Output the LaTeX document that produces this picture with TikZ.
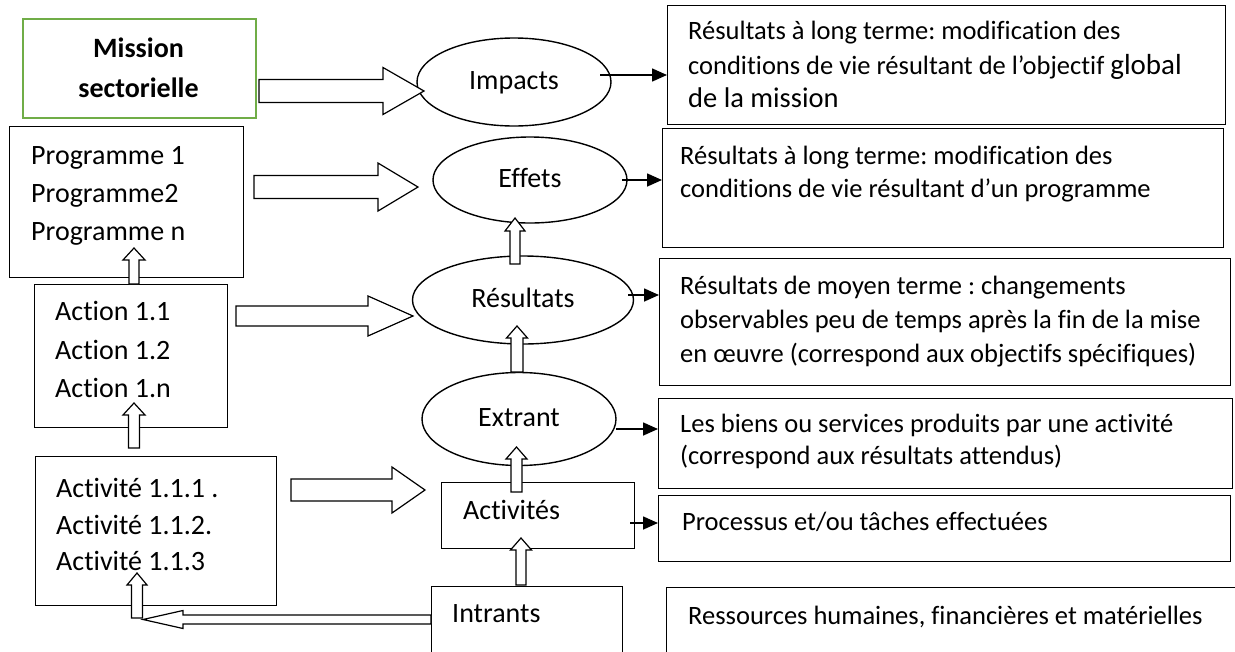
\documentclass[tikz,border=0pt]{standalone}
\usepackage{fontspec}
\setmainfont{Carlito}[Ligatures={TeX,NoCommon}]
\frenchspacing
\usetikzlibrary{calc,shapes.geometric,arrows.meta}
\definecolor{mgreen}{RGB}{112,173,71}
% block arrow: #1 from, #2 tip, #3 shaft half width, #4 head half width, #5 head length
\newcommand\blockarrow[5]{%
  \draw[blockarr] ($(#1)!#3!90:(#2)$)
    -- ($($(#2)!#5!(#1)$)!#3!90:(#2)$)
    -- ($($(#2)!#5!(#1)$)!#4!90:(#2)$)
    -- (#2)
    -- ($($(#2)!#5!(#1)$)!#4!-90:(#2)$)
    -- ($($(#2)!#5!(#1)$)!#3!-90:(#2)$)
    -- ($(#1)!#3!-90:(#2)$) -- cycle;}
\begin{document}
\begin{tikzpicture}[x=1pt,y=-1pt,
  box/.style={draw, line width=1.4pt, rectangle, inner sep=0pt, anchor=north west},
  ell/.style={draw, ellipse, line width=1.4pt, inner sep=0pt, font=\fontsize{28}{34}\selectfont, text height=22.6pt, text depth=7pt},
  lt/.style={anchor=west, inner sep=0pt, font=\fontsize{28}{34}\selectfont, text height=21.6pt, text depth=7pt},
  rt/.style={anchor=west, inner sep=0pt, font=\fontsize{26.5}{30}\selectfont, text height=20.5pt, text depth=6.4pt},
  blockarr/.style={draw, fill=white, line width=1.2pt, line join=miter},
  thin/.style={line width=1.6pt, -{Triangle[length=15pt,width=13pt]}}]
\useasboundingbox (0,0) rectangle (1235,651);
\clip (0,0) rectangle (1235,651);
\fill[white] (0,0) rectangle (1235,651);

% ---- left column boxes
\node[box, draw=mgreen, line width=1.8pt, minimum width=233pt, minimum height=99pt] (mission) at (22,18) {};
\node[align=center, inner sep=0pt, font=\fontsize{28}{40}\selectfont\bfseries] (missiont) at (138.5,68) {Mission\\sectorielle};

\node[box, minimum width=234pt, minimum height=151pt] (prog) at (9,126) {};
\node[lt] (prog1) at (31,157) {Programme 1};
\node[lt] (prog2) at (31,195) {Programme2};
\node[lt] (prog3) at (31,233) {Programme n};

\node[box, minimum width=193pt, minimum height=143pt] (action) at (34,284) {};
\node[lt] (act1) at (55,313) {Action 1.1};
\node[lt] (act2) at (55,352) {Action 1.2};
\node[lt] (act3) at (55,390) {Action 1.n};

\node[box, minimum width=241pt, minimum height=149pt] (activite) at (35,456) {};
\node[lt] (av1) at (56,490) {Activité 1.1.1 .};
\node[lt] (av2) at (56,527) {Activité 1.1.2.};
\node[lt] (av3) at (56,563) {Activité 1.1.3};

% ---- middle column
\node[ell, minimum width=194pt, minimum height=88pt] (impacts) at (514,82) {Impacts};
\node[ell, minimum width=194pt, minimum height=86pt] (effets) at (530,180) {Effets};
\node[ell, minimum width=221pt, minimum height=88pt] (resultats) at (523,300) {Résultats};
\node[ell, minimum width=194pt, minimum height=93pt] (extrant) at (519,419) {Extrant};

\node[box, minimum width=193pt, minimum height=66pt] (activites) at (441,482) {};
\node[lt] (activitest) at (463,512) {Activités};
\node[box, minimum width=191pt, minimum height=80pt] (intrants) at (431,586) {};
\node[lt] (intrantst) at (452,615) {Intrants};

% ---- right column
\node[box, minimum width=558pt, minimum height=119pt] (b1) at (667,5) {};
\node[rt] (b1a) at (688,32) {Résultats à long terme: modification des};
\node[rt] (b1b) at (688,67) {conditions de vie résultant de l’objectif {\fontsize{29}{30}\selectfont global}};
\node[rt, font=\fontsize{28.5}{30}\selectfont] (b1c) at (688,100) {de la mission};

\node[box, minimum width=561pt, minimum height=119pt] (b2) at (662,128) {};
\node[rt] (b2a) at (680,157) {Résultats à long terme: modification des};
\node[rt] (b2b) at (680,190) {conditions de vie résultant d’un programme};

\node[box, minimum width=571pt, minimum height=127pt] (b3) at (659,258) {};
\node[rt] (b3a) at (680,287) {Résultats de moyen terme : changements};
\node[rt] (b3b) at (680,321) {observables peu de temps après la fin de la mise};
\node[rt] (b3c) at (680,355) {en œuvre (correspond aux objectifs spécifiques)};

\node[box, minimum width=574pt, minimum height=90pt] (b4) at (658,398) {};
\node[rt] (b4a) at (680,425) {Les biens ou services produits par une activité};
\node[rt] (b4b) at (680,457) {(correspond aux résultats attendus)};

\node[box, minimum width=572pt, minimum height=66pt] (b5) at (658,495) {};
\node[rt] (b5a) at (682,523) {Processus et/ou tâches effectuées};

\node[box, minimum width=600pt, minimum height=80pt] (b6) at (666,587) {};
\node[rt] (b6a) at (688,617) {Ressources humaines, financières et matérielles};

% ---- thin arrows
\coordinate (l1s) at (600,75);  \coordinate (l1t) at (667,75);
\coordinate (l2s) at (622,180); \coordinate (l2t) at (662,180);
\coordinate (l3s) at (628,295); \coordinate (l3t) at (659,295);
\coordinate (l4s) at (616,429); \coordinate (l4t) at (658,429);
\coordinate (l5s) at (630,523); \coordinate (l5t) at (658,523);
\draw[thin] (l1s) -- (l1t);
\draw[thin] (l2s) -- (l2t);
\draw[thin] (l3s) -- (l3t);
\draw[thin] (l4s) -- (l4t);
\draw[thin] (l5s) -- (l5t);

% ---- horizontal block arrows
\coordinate (a1s) at (259,91);  \coordinate (a1t) at (424,91);
\coordinate (a2s) at (254,187); \coordinate (a2t) at (418,187);
\coordinate (a3s) at (236,316); \coordinate (a3t) at (413,316);
\coordinate (a4s) at (291,490); \coordinate (a4t) at (425,490);
\coordinate (a5s) at (431,619.5); \coordinate (a5t) at (143,619.5);
\blockarrow{a1s}{a1t}{11.5pt}{23.5pt}{41pt}
\blockarrow{a2s}{a2t}{11.5pt}{24pt}{40pt}
\blockarrow{a3s}{a3t}{10pt}{20pt}{45pt}
\blockarrow{a4s}{a4t}{11pt}{23pt}{33pt}
\blockarrow{a5s}{a5t}{4.5pt}{9pt}{40pt}

% ---- vertical block arrows
\coordinate (v1s) at (134,284);   \coordinate (v1t) at (134,248);
\coordinate (v2s) at (515,264);   \coordinate (v2t) at (515,218);
\coordinate (v3s) at (517,372);   \coordinate (v3t) at (517,326);
\coordinate (v4s) at (516.5,492); \coordinate (v4t) at (516.5,447);
\coordinate (v5s) at (521,585);   \coordinate (v5t) at (521,538);
\coordinate (v6s) at (134,448);   \coordinate (v6t) at (134,403);
\coordinate (v7s) at (137,618);   \coordinate (v7t) at (137,573);
\blockarrow{v1s}{v1t}{5pt}{11pt}{12pt}
\blockarrow{v2s}{v2t}{5pt}{10pt}{13pt}
\blockarrow{v3s}{v3t}{6pt}{10.5pt}{12pt}
\blockarrow{v4s}{v4t}{5.5pt}{10.5pt}{12pt}
\blockarrow{v5s}{v5t}{5pt}{10.5pt}{12pt}
\blockarrow{v6s}{v6t}{5.5pt}{11pt}{12pt}
\blockarrow{v7s}{v7t}{5.5pt}{10pt}{12pt}
\end{tikzpicture}
\end{document}
